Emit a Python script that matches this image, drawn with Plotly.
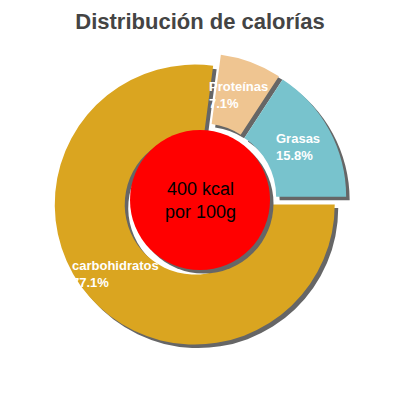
import numpy as np
import plotly.graph_objects as go

labels = ["Grasas", "Proteínas", "carbohidratos"]
values = [15.8, 7.1, 77.1]
colors = ["#78C3CD", "#EFC591", "#DAA520"]
title = "Distribución de calorías"
center_text = "400 kcal<br>por 100g"

# pie geometry; plot area is 384px square (the page body adds an 8px offset)
side = 384.0
R = 140 / side           # pie radius in paper units
pull = 0.05
half = R * (1 + pull)
sh = 3.5 / side          # shadow offset
rot = 90 - 360 * values[0] / sum(values)

fig = go.Figure()

# shadow pie
fig.add_trace(go.Pie(
    labels=labels, values=values, sort=False, direction="counterclockwise",
    rotation=rot, hole=0.5, pull=pull,
    marker=dict(colors=["#666666"] * 3, line=dict(width=0)),
    textinfo="none", hoverinfo="skip", showlegend=False,
    domain=dict(x=[0.5 - half + sh, 0.5 + half + sh], y=[0.5 - half - sh, 0.5 + half - sh]),
))

# main pie
fig.add_trace(go.Pie(
    labels=labels, values=values, sort=False, direction="counterclockwise",
    rotation=rot, hole=0.5, pull=pull,
    marker=dict(colors=colors, line=dict(width=0)),
    textinfo="none", showlegend=False,
    domain=dict(x=[0.5 - half, 0.5 + half], y=[0.5 - half, 0.5 + half]),
))

# red centre disc with its shadow
r = R / 2
fig.add_shape(type="circle", xref="paper", yref="paper",
              x0=0.5 - r + sh, x1=0.5 + r + sh, y0=0.5 - r - sh, y1=0.5 + r - sh,
              fillcolor="#666666", line=dict(width=0), layer="above")
fig.add_shape(type="circle", xref="paper", yref="paper",
              x0=0.5 - r, x1=0.5 + r, y0=0.5 - r, y1=0.5 + r,
              fillcolor="#FF0000", line=dict(width=0), layer="above")

fig.add_annotation(text=center_text, x=0.5, y=0.5, xref="paper", yref="paper",
                   showarrow=False, font=dict(family="Liberation Sans", size=18, color="black"))

# slice labels at the middle of each slice
total = sum(values)
start = 0.0
for lab, v in zip(labels, values):
    mid = np.radians(start + 180 * v / total)
    start += 360 * v / total
    fig.add_annotation(
        text=f"{lab}<br>{100 * v / total:.1f}%",
        x=0.5 + 0.8 * R * np.cos(mid), y=0.5 + 0.8 * R * np.sin(mid),
        xref="paper", yref="paper", xanchor="center", yanchor="middle",
        showarrow=False, align="left",
        font=dict(family="Liberation Sans", size=13, color="white", weight="bold"),
    )

fig.update_layout(
    width=400, height=400,
    margin=dict(l=0, r=16, t=0, b=16),
    paper_bgcolor="white",
    title=dict(text="<b>" + title + "</b>", x=0.5, xref="paper", xanchor="center",
               y=0.968, yanchor="middle",
               font=dict(family="Liberation Sans", size=22, color="#444444")),
)

fig.write_html("out.html")
